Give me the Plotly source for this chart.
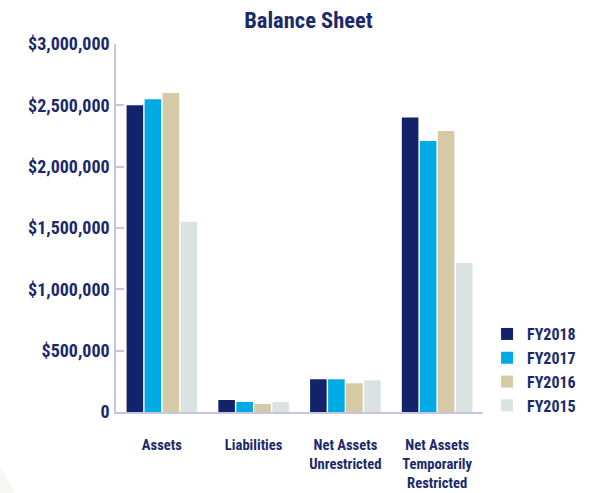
import plotly.graph_objects as go

categories = ["Assets", "Liabilities", "Net Assets<br>Unrestricted", "Net Assets<br>Temporarily<br>Restricted"]
series_names = ["FY2018", "FY2017", "FY2016", "FY2015"]
fy2018 = [2500000, 98000, 267000, 2400000]
fy2017 = [2550000, 82000, 267000, 2210000]
fy2016 = [2600000, 65000, 234000, 2290000]
fy2015 = [1550000, 82000, 258000, 1215000]
series_values = [fy2018, fy2017, fy2016, fy2015]
y_tick_vals = [0, 500000, 1000000, 1500000, 2000000, 2500000, 3000000]
y_tick_text = ["0", "$500,000", "$1,000,000", "$1,500,000", "$2,000,000", "$2,500,000", "$3,000,000"]

colors = ["#13236b", "#00aae4", "#d5caa5", "#dbe2e3"]
navy = "#1b2a6b"
axis_col = "#c6c6dc"
FONT = "Roboto Condensed, Liberation Sans Narrow, DejaVu Sans Condensed, Roboto, sans-serif"

fig = go.Figure()
for name, vals, c in zip(series_names, series_values, colors):
    fig.add_trace(go.Bar(x=categories, y=vals, name=name, marker=dict(color=c, line=dict(width=0)),
                         hoverinfo="skip"))

fig.update_layout(
    width=599, height=493,
    margin=dict(l=116, r=116, t=44, b=81, autoexpand=False),
    paper_bgcolor="white", plot_bgcolor="white",
    barmode="group", bargap=0.215, bargroupgap=0.08,
    font=dict(family=FONT, color=navy, weight="bold"),
    title=dict(text="<b>Balance Sheet</b>", x=0.515, xref="container", xanchor="center",
               y=1 - 20 / 493, yref="container", yanchor="middle",
               font=dict(size=22.5, color=navy, family=FONT)),
    legend=dict(x=1.011, xanchor="left", y=0.114, yanchor="middle",
                font=dict(size=16, color=navy, family=FONT, weight="bold"),
                itemclick=False, bgcolor="rgba(0,0,0,0)"),
    xaxis=dict(showline=True, linecolor=axis_col, linewidth=1.5, ticks="", showgrid=False,
               automargin=False,
               tickfont=dict(size=14.6, color=navy, family=FONT, weight="bold"),
               ticklabelstandoff=19, range=[-0.5, 3.5]),
    yaxis=dict(showline=True, linecolor=axis_col, linewidth=1.5, ticks="inside", ticklen=8,
               tickcolor=axis_col, tickwidth=1.5, showgrid=False, zeroline=False,
               automargin=False,
               range=[0, 3000000], tickvals=y_tick_vals, ticktext=y_tick_text,
               tickfont=dict(size=18, color=navy, family=FONT, weight="bold"),
               ticklabelstandoff=1),
    shapes=[dict(type="path", xref="paper", yref="paper", layer="below",
                 path="M -0.316 -0.149 L -0.275 -0.221 L -0.316 -0.221 Z",
                 fillcolor="#f7f6f1", line=dict(width=0))],
)

fig.write_html("out.html", config={"displayModeBar": False},
               post_script="document.body.style.margin='0';")
